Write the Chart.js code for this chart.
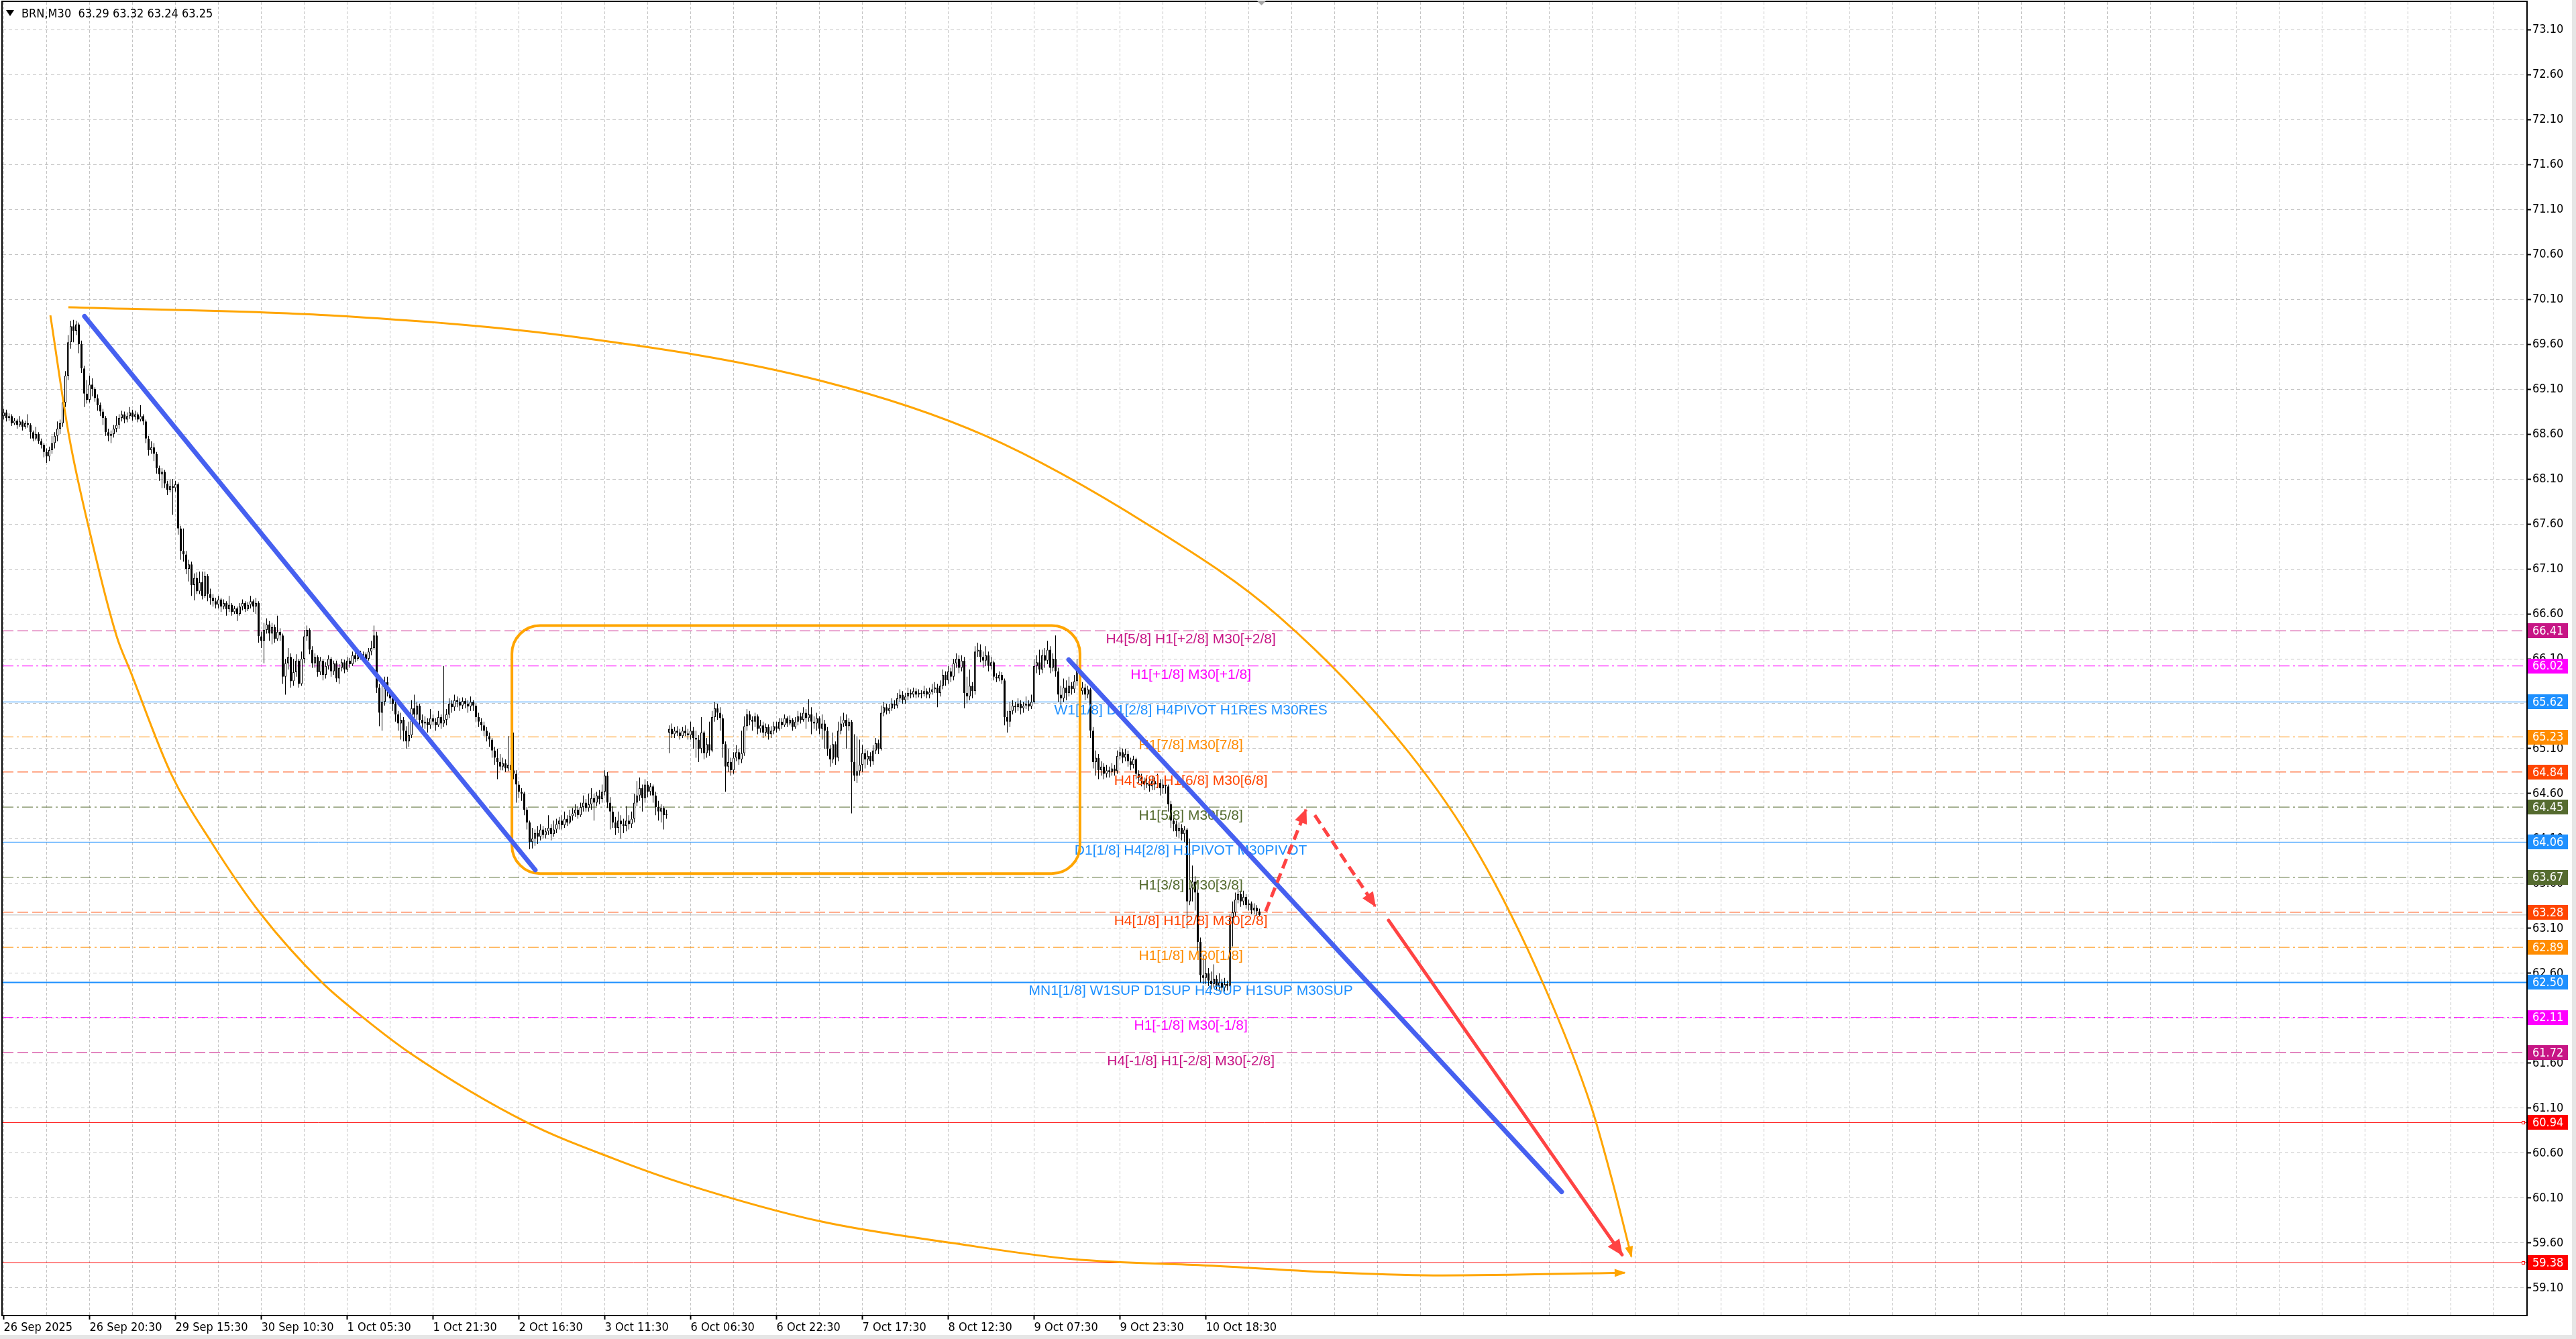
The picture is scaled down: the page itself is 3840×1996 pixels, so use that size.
<!DOCTYPE html>
<html>
<head>
<meta charset="utf-8">
<script src="https://cdn.jsdelivr.net/npm/chart.js@4.4.1/dist/chart.umd.min.js"></script>
<style>
  html, body { margin: 0; padding: 0; background: #fff; overflow: hidden; }
  canvas { display: block; }
</style>
</head>
<body>
<canvas id="brnChart" width="3840" height="1996"></canvas>
<script>
// BRN, M30 - candles (one value per 30 min bar)
const closes = [
  68.84,68.78,68.80,68.72,68.75,68.70,68.74,68.68,68.72,68.70,68.62,68.55,68.60,68.52,68.48,68.40,
  68.35,68.42,68.50,68.58,68.66,68.72,68.95,69.25,69.62,69.80,69.75,69.82,69.60,69.33,69.05,68.98,
  69.15,69.10,69.00,68.92,68.85,68.78,68.62,68.58,68.60,68.66,68.70,68.78,68.82,68.76,68.80,68.84,
  68.79,68.82,68.76,68.80,68.74,68.55,68.42,68.45,68.38,68.22,68.15,68.18,68.05,67.98,68.02,68.00,
  68.04,67.55,67.30,67.26,67.10,67.15,66.92,67.00,66.85,66.95,66.80,67.02,66.82,66.78,66.74,66.70,
  66.76,66.68,66.72,66.65,66.70,66.62,66.66,66.60,66.68,66.72,66.65,66.70,66.74,66.68,66.72,66.35,
  66.30,66.42,66.48,66.38,66.45,66.32,66.40,66.36,65.90,66.05,66.12,65.85,65.95,66.08,65.82,66.10,
  66.35,66.42,66.20,66.05,66.12,65.95,66.08,65.92,66.02,66.10,65.96,66.05,65.88,66.00,66.06,65.98,
  66.08,66.04,66.14,66.10,66.16,66.12,66.15,66.10,66.18,66.22,66.36,65.78,65.50,65.62,65.84,65.75,
  65.66,65.60,65.48,65.38,65.42,65.30,65.18,65.25,65.55,65.48,65.58,65.42,65.38,65.40,65.36,65.44,
  65.40,65.36,65.45,65.38,65.42,65.48,65.60,65.56,65.64,65.62,65.58,65.63,65.60,65.57,65.62,65.58,
  65.45,65.40,65.36,65.30,65.24,65.20,65.08,65.00,64.95,64.90,64.94,64.88,64.92,64.86,64.82,64.70,
  64.62,64.60,64.42,64.28,64.06,64.10,64.16,64.12,64.20,64.14,64.18,64.22,64.15,64.20,64.26,64.30,
  64.25,64.32,64.28,64.35,64.38,64.42,64.36,64.45,64.50,64.44,64.48,64.55,64.50,64.58,64.54,64.62,
  64.80,64.50,64.40,64.28,64.22,64.30,64.26,64.24,64.30,64.26,64.32,64.50,64.58,64.66,64.55,64.70,
  64.62,64.68,64.58,64.45,64.40,64.44,64.36,64.37,65.32,65.26,65.30,65.28,65.24,65.30,65.27,65.25,
  65.30,65.22,65.20,65.10,65.28,65.05,65.15,65.08,65.45,65.55,65.50,65.44,65.15,64.90,64.95,64.86,
  65.00,65.06,64.98,65.05,65.35,65.48,65.42,65.40,65.46,65.32,65.36,65.28,65.34,65.26,65.30,65.35,
  65.32,65.40,65.36,65.44,65.38,65.42,65.34,65.40,65.46,65.42,65.50,65.44,65.48,65.40,65.38,65.44,
  65.32,65.38,65.30,65.10,64.98,65.15,65.00,65.30,65.38,65.42,65.35,65.40,64.95,64.80,64.85,64.92,
  65.05,64.98,65.02,64.96,65.08,65.16,65.10,65.50,65.56,65.52,65.55,65.60,65.58,65.66,65.70,65.64,
  65.68,65.72,65.70,65.74,65.70,65.72,65.71,65.74,65.70,65.73,65.76,65.78,65.72,65.80,65.92,65.86,
  65.96,65.90,66.05,66.10,66.00,66.08,65.72,65.68,65.80,65.74,66.18,66.20,66.12,66.08,66.14,66.02,
  66.06,65.90,65.88,65.92,65.86,65.45,65.40,65.52,65.58,65.56,65.60,65.55,65.58,65.60,65.57,65.62,
  66.02,66.06,65.98,66.14,66.08,66.20,66.00,66.10,65.96,65.70,65.66,65.78,65.72,65.80,65.76,65.85,
  66.02,65.74,65.78,65.70,65.76,65.30,64.95,65.00,64.86,64.90,64.82,64.86,64.84,64.88,64.85,65.02,
  65.06,65.00,65.04,64.96,64.92,64.98,64.82,64.78,64.74,64.70,64.72,64.68,64.74,64.70,64.72,64.66,
  64.70,64.68,64.48,64.30,64.26,64.18,64.22,64.15,64.20,63.40,63.55,63.62,63.50,62.95,62.58,62.55,
  62.60,62.52,62.48,62.54,62.46,62.50,62.44,62.48,62.46,63.22,63.28,63.42,63.48,63.40,63.45,63.36,
  63.38,63.30,63.33,63.29,63.25
];
const highs = [
  68.88,68.87,68.83,68.82,68.78,68.77,68.80,68.76,68.75,68.82,68.72,68.64,68.68,68.62,68.55,68.50,
  68.44,68.46,68.58,68.62,68.74,68.76,68.98,69.30,69.70,69.86,69.87,69.86,69.84,69.64,69.36,69.20,
  69.25,69.22,69.12,69.04,68.95,68.88,68.80,68.66,68.64,68.70,68.80,68.82,68.86,68.85,68.84,68.90,
  68.87,68.86,68.84,68.92,68.82,68.76,68.58,68.52,68.50,68.40,68.25,68.22,68.20,68.08,68.10,68.10,
  68.08,68.06,67.58,67.55,67.30,67.20,67.18,67.05,67.06,67.07,67.07,67.07,67.04,66.88,66.82,66.78,
  66.80,66.78,66.76,66.74,66.80,66.72,66.69,66.68,66.72,66.76,66.74,66.73,66.80,66.76,66.78,66.74,
  66.40,66.50,66.55,66.52,66.50,66.48,66.58,66.44,66.38,66.10,66.22,66.16,66.10,66.15,66.10,66.18,
  66.42,66.47,66.44,66.24,66.16,66.14,66.12,66.10,66.06,66.14,66.12,66.08,66.08,66.04,66.10,66.09,
  66.12,66.11,66.18,66.17,66.20,66.19,66.18,66.17,66.22,66.30,66.47,66.40,65.82,65.80,65.90,65.90,
  65.78,65.72,65.64,65.52,65.50,65.45,65.35,65.40,65.64,65.70,65.62,65.60,65.48,65.46,65.44,65.54,
  65.48,65.44,65.52,65.48,66.02,65.54,65.66,65.64,65.70,65.68,65.66,65.67,65.66,65.64,65.68,65.64,
  65.60,65.50,65.44,65.40,65.34,65.28,65.22,65.12,65.10,65.04,65.00,64.98,65.24,64.96,65.28,64.86,
  64.74,64.66,64.62,64.45,64.30,64.22,64.20,64.24,64.26,64.24,64.22,64.36,64.26,64.30,64.32,64.34,
  64.36,64.40,64.36,64.42,64.44,64.48,64.46,64.50,64.58,64.54,64.60,64.66,64.60,64.62,64.64,64.70,
  64.86,64.84,64.56,64.46,64.34,64.40,64.36,64.32,64.46,64.36,64.40,64.60,64.74,64.78,64.70,64.76,
  64.74,64.72,64.70,64.62,64.52,64.48,64.46,64.42,65.36,65.38,65.34,65.35,65.32,65.34,65.36,65.32,
  65.40,65.34,65.30,65.25,65.45,65.30,65.22,65.40,65.52,65.62,65.60,65.56,65.48,65.18,65.10,65.00,
  65.06,65.14,65.10,65.30,65.46,65.54,65.52,65.46,65.50,65.48,65.42,65.40,65.38,65.37,65.35,65.40,
  65.40,65.44,65.44,65.48,65.46,65.47,65.44,65.45,65.52,65.50,65.56,65.54,65.65,65.56,65.46,65.50,
  65.46,65.48,65.42,65.34,65.14,65.28,65.18,65.40,65.46,65.50,65.48,65.44,65.42,65.26,65.24,65.20,
  65.14,65.10,65.08,65.06,65.14,65.22,65.20,65.58,65.62,65.60,65.60,65.66,65.64,65.72,65.76,65.74,
  65.72,65.78,65.76,65.78,65.77,65.76,65.75,65.80,65.77,65.78,65.82,65.84,65.82,65.86,65.98,65.96,
  66.02,66.00,66.10,66.16,66.14,66.14,66.12,65.90,65.98,65.84,66.24,66.28,66.26,66.18,66.24,66.18,
  66.12,66.08,65.94,65.96,65.95,65.88,65.52,65.62,65.64,65.62,65.66,65.64,65.62,65.68,65.64,65.70,
  66.10,66.14,66.20,66.20,66.22,66.30,66.24,66.16,66.36,66.00,65.80,65.88,65.86,65.90,65.84,65.92,
  66.10,66.06,65.84,65.82,65.80,65.78,65.34,65.08,65.04,64.96,64.94,64.92,64.90,64.94,64.92,65.08,
  65.12,65.10,65.10,65.08,65.00,65.02,65.00,64.86,64.82,64.78,64.77,64.76,64.80,64.78,64.82,64.76,
  64.76,64.74,64.70,64.52,64.36,64.30,64.28,64.26,64.24,64.22,64.10,63.80,63.68,63.54,63.00,62.80,
  62.76,62.66,62.62,62.70,62.58,62.60,62.54,62.55,62.52,63.26,63.40,63.50,63.54,63.52,63.52,63.48,
  63.42,63.40,63.38,63.36,63.32
];
const lows = [
  68.76,68.74,68.75,68.69,68.70,68.66,68.68,68.64,68.66,68.67,68.55,68.52,68.53,68.49,68.44,68.34,
  68.28,68.30,68.38,68.44,68.52,68.60,68.68,68.90,69.20,69.55,69.62,69.70,69.50,69.28,68.90,68.94,
  68.95,69.02,68.96,68.86,68.80,68.70,68.58,68.52,68.50,68.56,68.62,68.66,68.74,68.72,68.73,68.77,
  68.75,68.76,68.73,68.74,68.70,68.50,68.36,68.38,68.30,68.16,68.08,68.00,68.00,67.92,67.95,67.70,
  67.96,67.48,67.20,67.18,67.04,66.96,66.80,66.75,66.82,66.82,66.76,66.78,66.74,66.70,66.68,66.66,
  66.66,66.62,66.65,66.58,66.62,66.58,66.60,66.52,66.58,66.64,66.62,66.63,66.66,66.62,66.60,66.28,
  66.22,66.05,66.38,66.30,66.26,66.28,66.30,66.30,65.82,65.70,65.98,65.78,65.80,65.90,65.78,65.80,
  66.05,66.30,66.15,66.00,66.00,65.90,65.92,65.86,65.88,65.98,65.90,65.92,65.84,65.82,65.96,65.94,
  65.95,66.00,66.02,66.06,66.08,66.09,66.10,66.06,66.08,66.14,66.20,65.72,65.35,65.30,65.58,65.68,
  65.60,65.52,65.40,65.30,65.20,65.18,65.10,65.12,65.22,65.40,65.42,65.30,65.30,65.32,65.28,65.32,
  65.36,65.30,65.34,65.32,65.34,65.36,65.44,65.50,65.52,65.56,65.52,65.54,65.55,65.50,65.52,65.52,
  65.40,65.34,65.30,65.24,65.18,65.12,65.00,64.92,64.76,64.86,64.86,64.84,64.85,64.80,64.76,64.50,
  64.55,64.52,64.36,64.20,63.98,63.99,64.02,64.04,64.08,64.10,64.10,64.14,64.08,64.12,64.16,64.20,
  64.20,64.22,64.24,64.26,64.30,64.34,64.32,64.34,64.40,64.40,64.40,64.42,64.30,64.46,64.48,64.50,
  64.58,64.44,64.20,64.22,64.14,64.16,64.10,64.16,64.18,64.20,64.22,64.28,64.46,64.52,64.40,64.50,
  64.56,64.58,64.50,64.36,64.30,64.28,64.20,64.32,65.05,65.22,65.22,65.24,65.20,65.22,65.24,65.20,
  65.20,65.10,65.00,64.95,65.05,64.98,65.00,65.02,65.06,65.40,65.42,65.30,65.00,64.62,64.84,64.80,
  64.82,64.96,64.92,64.94,65.02,65.30,65.36,65.30,65.34,65.26,65.28,65.22,65.24,65.20,65.22,65.26,
  65.28,65.30,65.32,65.34,65.34,65.36,65.30,65.32,65.36,65.38,65.40,65.32,65.40,65.26,65.32,65.30,
  65.26,65.20,65.10,65.02,64.90,64.94,64.92,64.96,65.26,65.34,65.10,65.30,64.38,64.74,64.72,64.80,
  64.84,64.88,64.92,64.90,64.92,65.04,65.04,65.08,65.46,65.48,65.49,65.52,65.54,65.55,65.62,65.60,
  65.60,65.64,65.66,65.67,65.66,65.67,65.66,65.68,65.66,65.66,65.70,65.72,65.56,65.68,65.76,65.80,
  65.82,65.84,65.86,66.00,65.94,65.96,65.55,65.60,65.64,65.66,65.70,66.12,66.06,66.00,66.02,65.96,
  65.98,65.86,65.84,65.85,65.82,65.36,65.28,65.34,65.48,65.50,65.52,65.48,65.50,65.54,65.52,65.54,
  65.60,65.94,65.92,65.94,66.00,66.04,65.94,65.96,65.90,65.62,65.58,65.62,65.64,65.68,65.70,65.72,
  65.80,65.68,65.70,65.64,65.66,65.22,64.88,64.80,64.76,64.80,64.76,64.78,64.78,64.80,64.80,64.82,
  64.98,64.94,64.96,64.90,64.86,64.88,64.76,64.72,64.68,64.64,64.66,64.62,64.64,64.64,64.66,64.58,
  64.60,64.60,64.40,64.22,64.18,64.12,64.10,64.08,64.06,63.10,63.36,63.40,63.30,62.80,62.50,62.48,
  62.48,62.46,62.42,62.44,62.41,62.40,62.40,62.40,62.41,62.45,62.90,63.24,63.38,63.34,63.36,63.32,
  63.30,63.26,63.26,63.24,63.24
];
// bars whose open is not the previous close (first bar, Monday gap)
const sessionOpens = [[0, 68.80], [248, 65.28]];

const xLabels = ['26 Sep 2025', '26 Sep 20:30', '29 Sep 15:30', '30 Sep 10:30', '1 Oct 05:30',
  '1 Oct 21:30', '2 Oct 16:30', '3 Oct 11:30', '6 Oct 06:30', '6 Oct 22:30', '7 Oct 17:30',
  '8 Oct 12:30', '9 Oct 07:30', '9 Oct 23:30', '10 Oct 18:30'];
const yTicks = [59.10, 59.60, 60.10, 60.60, 61.10, 61.60, 62.10, 62.60, 63.10, 63.60, 64.10, 64.60,
  65.10, 65.60, 66.10, 66.60, 67.10, 67.60, 68.10, 68.60, 69.10, 69.60, 70.10, 70.60, 71.10, 71.60,
  72.10, 72.60, 73.10];

// Murrey levels
const levelPrices = [66.41, 66.02, 65.62, 65.23, 64.84, 64.45, 64.06, 63.67, 63.28, 62.89, 62.50, 62.11, 61.72];
const levelTexts = [
  'H4[5/8] H1[+2/8] M30[+2/8]', 'H1[+1/8] M30[+1/8]', 'W1[1/8] D1[2/8] H4PIVOT H1RES M30RES',
  'H1[7/8] M30[7/8]', 'H4[3/8] H1[6/8] M30[6/8]', 'H1[5/8] M30[5/8]', 'D1[1/8] H4[2/8] H1PIVOT M30PIVOT',
  'H1[3/8] M30[3/8]', 'H4[1/8] H1[2/8] M30[2/8]', 'H1[1/8] M30[1/8]', 'MN1[1/8] W1SUP D1SUP H4SUP H1SUP M30SUP',
  'H1[-1/8] M30[-1/8]', 'H4[-1/8] H1[-2/8] M30[-2/8]'];
const levelColors = ['#C71585', '#FF00FF', '#1E90FF', '#FF8C00', '#FF4500', '#556B2F', '#1E90FF',
  '#556B2F', '#FF4500', '#FF8C00', '#1E90FF', '#FF00FF', '#C71585'];
const levelStyles = ['dash', 'dashdot', 'solid', 'dashdot', 'dash', 'dashdot', 'solid',
  'dashdot', 'dash', 'dashdot', 'solid', 'dashdot', 'dash'];
const alertPrices = [60.94, 59.38];
const bidPrice = 63.25;

// drawn objects, [bar, price]
const trendLine1 = [[30.1, 69.91], [198.1, 63.75]];
const trendLine2 = [[396.9, 66.09], [580.6, 60.17]];
const arcUpper = [[24.1, 70.01], [121.1, 69.92], [212.9, 69.68], [304.9, 69.19], [365.9, 68.58],
  [427.1, 67.58], [475.6, 66.56], [523.6, 65.06], [549.6, 63.93], [574.1, 62.46], [591.6, 61.12],
  [599.4, 60.30], [606.6, 59.45]];
const arcLower = [[17.4, 69.92], [24.4, 68.57], [32.4, 67.47], [42.1, 66.35], [47.1, 65.97],
  [62.4, 64.82], [77.6, 64.05], [95.6, 63.27], [118.6, 62.50], [133.9, 62.11], [151.6, 61.71],
  [195.1, 60.94], [228.1, 60.53], [253.6, 60.26], [304.6, 59.84], [355.9, 59.59], [398.6, 59.42],
  [448.6, 59.35], [498.6, 59.27], [536.1, 59.24], [604.1, 59.27]];
const forecastUp = [[470.3, 63.29], [485.3, 64.42]];
const forecastDown = [[488.6, 64.36], [511.1, 63.35]];
const forecastMain = [[516.1, 63.19], [603.1, 59.47]];
const rangeBox = [189.4, 401.1, 63.71, 66.47];   // from bar, to bar, low, high
const labelBar = 442.4;

const X_MIN = -0.375, X_MAX = 940.375;
const Y_MIN = 58.794, Y_MAX = 73.406;

const AXIS_FONT = "'DejaVu Sans Condensed', 'Liberation Sans Narrow', sans-serif";
const LEVEL_FONT = "21px 'Liberation Sans', Arial, sans-serif";
const DASHES = {solid: [], dash: [16, 6], dashdot: [16, 5, 3, 5]};

const gapOpen = Object.fromEntries(sessionOpens);
const opens = closes.map((c, i) => (i in gapOpen ? gapOpen[i] : closes[i - 1]));

const wickData = closes.map((c, i) => ({x: i, y: [lows[i], highs[i]]}));
const bodyData = closes.map((c, i) => ({x: i, y: [Math.min(opens[i], c), Math.max(opens[i], c)]}));
const bodyFill = closes.map((c, i) => (c >= opens[i] ? '#ffffff' : '#000000'));

const hLine = (price, color, width, dash, order) => ({
  type: 'line',
  data: [{x: X_MIN, y: price}, {x: X_MAX, y: price}],
  borderColor: color, borderWidth: width, borderDash: dash,
  pointRadius: 0, fill: false, order: order
});
const drawnLine = (pts, color, width, extra) => Object.assign({
  type: 'line',
  data: pts.map(p => ({x: p[0], y: p[1]})),
  borderColor: color, borderWidth: width,
  pointRadius: 0, fill: false, order: 1
}, extra || {});

const datasets = [];
levelPrices.forEach((p, i) => {
  datasets.push(hLine(p, levelColors[i], p === 62.50 ? 2 : 1, DASHES[levelStyles[i]], 20));
});
alertPrices.forEach(p => datasets.push(hLine(p, '#FF0000', 1, [], 20)));
datasets.push(hLine(bidPrice, '#BEBEBE', 1, [], 21));

datasets.push({
  type: 'bar', role: 'wicks', data: wickData,
  backgroundColor: '#000', borderWidth: 0, barThickness: 1, inflateAmount: 0,
  grouped: false, order: 11
});
datasets.push({
  type: 'bar', role: 'bodies', data: bodyData,
  backgroundColor: bodyFill, borderColor: '#000', borderWidth: 1, borderSkipped: false,
  barThickness: 3, inflateAmount: 0, grouped: false, order: 10
});

const ORANGE = '#FFA500', BLUE = '#4660F0', RED = '#FF4343';
datasets.push(drawnLine(arcUpper, ORANGE, 3, {cubicInterpolationMode: 'monotone', arrow: [15, 12], order: 3}));
datasets.push(drawnLine(arcLower, ORANGE, 3, {cubicInterpolationMode: 'monotone', arrow: [15, 12], order: 3}));
datasets.push(drawnLine(trendLine1, BLUE, 7, {borderCapStyle: 'round', order: 2}));
datasets.push(drawnLine(trendLine2, BLUE, 7, {borderCapStyle: 'round', order: 2}));
datasets.push(drawnLine(forecastUp, RED, 5, {borderDash: [15, 8], arrow: [20, 19], order: 1}));
datasets.push(drawnLine(forecastDown, RED, 5, {borderDash: [15, 8], arrow: [20, 19], order: 1}));
datasets.push(drawnLine(forecastMain, RED, 5, {borderCapStyle: 'round', arrow: [22, 21], order: 1}));

const mtPlugin = {
  id: 'mtPlugin',
  afterDatasetDraw(chart, args) {
    if (chart.data.datasets[args.index].role !== 'bodies') return;
    const {ctx, scales: {x, y}} = chart;
    ctx.save();
    ctx.beginPath();
    ctx.rect(chart.chartArea.left, chart.chartArea.top, chart.chartArea.width, chart.chartArea.height);
    ctx.clip();
    // level captions
    ctx.font = LEVEL_FONT;
    ctx.textAlign = 'center';
    ctx.textBaseline = 'middle';
    const lx = x.getPixelForValue(labelBar);
    levelPrices.forEach((p, i) => {
      ctx.fillStyle = levelColors[i];
      ctx.fillText(levelTexts[i], lx, y.getPixelForValue(p) + 13);
    });
    // consolidation box
    const bx1 = x.getPixelForValue(rangeBox[0]), bx2 = x.getPixelForValue(rangeBox[1]);
    const by1 = y.getPixelForValue(rangeBox[3]), by2 = y.getPixelForValue(rangeBox[2]);
    ctx.strokeStyle = ORANGE;
    ctx.lineWidth = 4;
    ctx.beginPath();
    ctx.roundRect(bx1, by1, bx2 - bx1, by2 - by1, 42);
    ctx.stroke();
    ctx.restore();
  },
  afterDatasetsDraw(chart) {
    const ctx = chart.ctx;
    chart.data.datasets.forEach((ds, i) => {
      if (!ds.arrow) return;
      const pts = chart.getDatasetMeta(i).data;
      const tip = pts[pts.length - 1];
      let tail = pts[pts.length - 2];
      if (tip.cp1x !== undefined && (tip.cp1x !== tip.x || tip.cp1y !== tip.y)) {
        tail = {x: tip.cp1x, y: tip.cp1y};
      }
      const ang = Math.atan2(tip.y - tail.y, tip.x - tail.x);
      const [len, wid] = ds.arrow;
      ctx.save();
      ctx.translate(tip.x, tip.y);
      ctx.rotate(ang);
      ctx.fillStyle = ds.borderColor;
      ctx.beginPath();
      ctx.moveTo(2, 0);
      ctx.lineTo(-len, -wid / 2);
      ctx.lineTo(-len, wid / 2);
      ctx.closePath();
      ctx.fill();
      ctx.restore();
    });
  },
  afterDraw(chart) {
    const {ctx, chartArea: a, scales: {x, y}} = chart;
    ctx.save();
    // window edges
    ctx.fillStyle = '#E6E6E6';
    ctx.fillRect(3834, 0, 6, 1996);
    ctx.fillRect(0, 1990, 3840, 6);
    // plot frame
    ctx.strokeStyle = '#000';
    ctx.lineWidth = 2;
    ctx.strokeRect(a.left - 1, a.top - 1, a.right - a.left + 1, a.bottom - a.top + 1);
    // alert markers on the right end
    ctx.lineWidth = 1;
    alertPrices.forEach(p => {
      const py = Math.round(y.getPixelForValue(p));
      ctx.fillStyle = '#fff';
      ctx.strokeStyle = '#FF0000';
      ctx.fillRect(a.right - 8, py - 2, 5, 5);
      ctx.strokeRect(a.right - 7.5, py - 1.5, 4, 4);
    });
    // price tags on the axis
    ctx.font = '18px ' + AXIS_FONT;
    ctx.textAlign = 'left';
    ctx.textBaseline = 'middle';
    const tagPrices = levelPrices.concat(alertPrices);
    const tagColors = levelColors.concat(['#FF0000', '#FF0000']);
    tagPrices.forEach((p, i) => {
      const py = y.getPixelForValue(p);
      ctx.fillStyle = tagColors[i];
      ctx.fillRect(a.right + 1, Math.round(py - 11), 60, 22);
      ctx.fillStyle = '#fff';
      ctx.fillText(p.toFixed(2), a.right + 8, py + 1);
    });
    // chart shift marker
    const sx = x.getPixelForValue(closes.length - 1) + 3;
    ctx.fillStyle = '#A8A8A8';
    ctx.beginPath();
    ctx.moveTo(sx - 7, 1);
    ctx.lineTo(sx + 7, 1);
    ctx.lineTo(sx, 8);
    ctx.closePath();
    ctx.fill();
    // header
    ctx.fillStyle = '#000';
    ctx.beginPath();
    ctx.moveTo(9, 15);
    ctx.lineTo(21, 15);
    ctx.lineTo(15, 24);
    ctx.closePath();
    ctx.fill();
    ctx.font = '18px ' + AXIS_FONT;
    ctx.textBaseline = 'alphabetic';
    ctx.fillText('BRN,M30  63.29 63.32 63.24 63.25', 32, 26);
    ctx.restore();
  }
};

new Chart(document.getElementById('brnChart'), {
  type: 'bar',
  data: {datasets: datasets},
  options: {
    responsive: false,
    devicePixelRatio: 1,
    animation: false,
    events: [],
    layout: {padding: {left: 4, top: 3, right: 0, bottom: 0}},
    plugins: {legend: {display: false}, tooltip: {enabled: false}, title: {display: false}},
    scales: {
      x: {
        type: 'linear',
        min: X_MIN, max: X_MAX,
        offset: false,
        afterBuildTicks: axis => {
          const t = [];
          for (let v = 0; v <= X_MAX; v += 16) t.push({value: v});
          axis.ticks = t;
        },
        afterFit: s => { s.height = 35; s.paddingLeft = 0; s.paddingRight = 0; },
        grid: {
          color: '#C4C4C4', lineWidth: 1, offset: false, tickLength: 6, tickWidth: 2,
          tickColor: c => (c.tick && c.tick.value % 32 === 0 && xLabels[c.tick.value / 32]) ? '#000' : 'rgba(0,0,0,0)'
        },
        border: {display: false, dash: [4, 3]},
        ticks: {
          autoSkip: false, maxRotation: 0, align: 'start', padding: 2, color: '#000',
          font: {family: AXIS_FONT, size: 18},
          callback: v => (v % 32 === 0 && xLabels[v / 32]) ? xLabels[v / 32] : ''
        }
      },
      y: {
        type: 'linear',
        position: 'right',
        min: Y_MIN, max: Y_MAX,
        afterBuildTicks: axis => { axis.ticks = yTicks.map(v => ({value: v})); },
        afterFit: s => { s.width = 73; s.paddingTop = 0; s.paddingBottom = 0; },
        grid: {color: '#C4C4C4', lineWidth: 1, tickLength: 6, tickWidth: 2, tickColor: '#000'},
        border: {display: false, dash: [5, 4]},
        ticks: {
          padding: 2, color: '#000',
          font: {family: AXIS_FONT, size: 18},
          callback: v => v.toFixed(2)
        }
      }
    }
  },
  plugins: [mtPlugin]
});
</script>
</body>
</html>
